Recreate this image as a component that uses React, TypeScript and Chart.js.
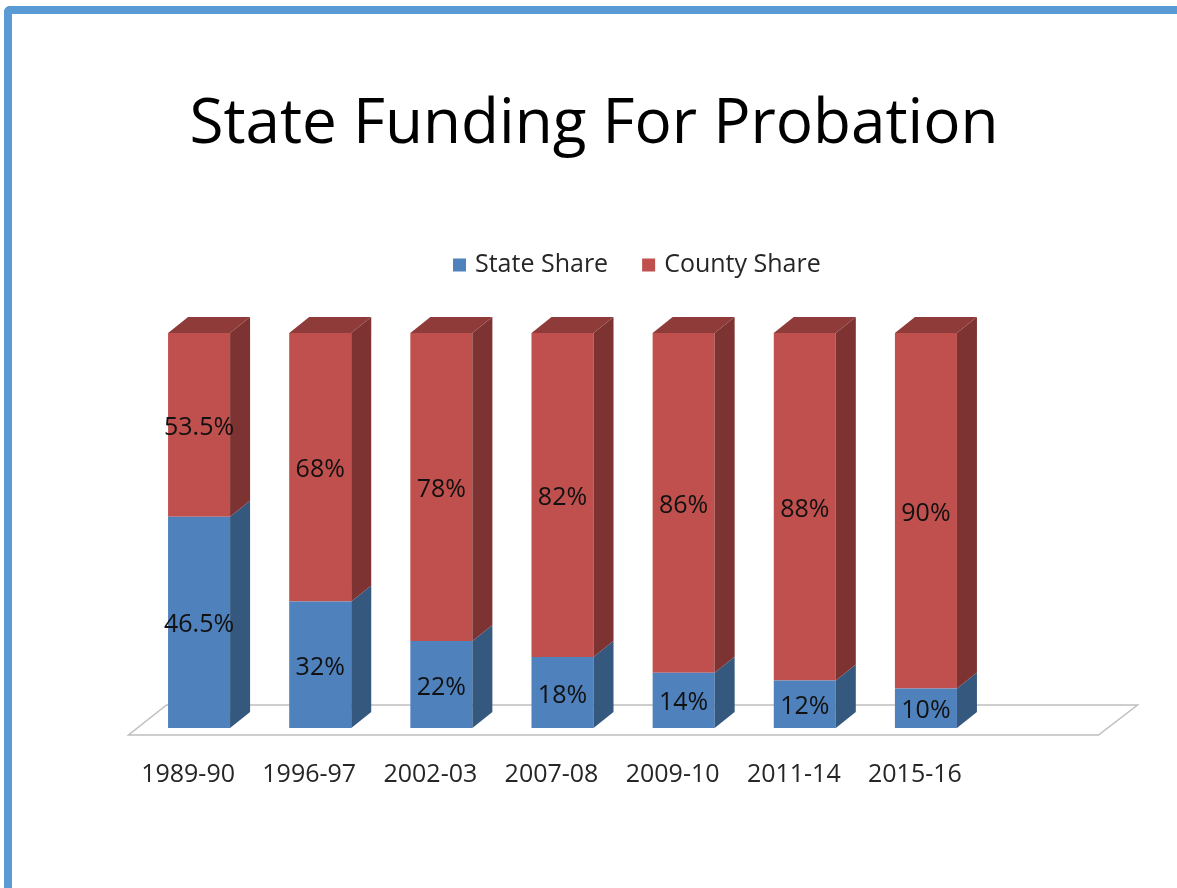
import React, { useEffect, useRef } from 'react';
import { Chart, registerables } from 'chart.js';

Chart.register(...registerables);

const titleText = 'State Funding For Probation';
const categories = ['1989-90', '1996-97', '2002-03', '2007-08', '2009-10', '2011-14', '2015-16'];
const seriesNames = ['State Share', 'County Share'];
// bar heights (percent of total)
const stateShare = [53.5, 32, 22, 18, 14, 12, 10];
const countyShare = [46.5, 68, 78, 82, 86, 88, 90];
// data label texts as printed on the picture
const stateLabels = ['46.5%', '32%', '22%', '18%', '14%', '12%', '10%'];
const countyLabels = ['53.5%', '68%', '78%', '82%', '86%', '88%', '90%'];

const frontColors = ['#4F81BD', '#C0504D'];
const sideColors = ['#35587F', '#7D3331'];
const topColors = ['#426E9F', '#8E3B39'];
const FONT = '"Open Sans", "Noto Sans", sans-serif';
const DX = 20;
const DY = -16;

const floorPlugin = {
  id: 'floor3d',
  beforeDatasetsDraw(chart: any) {
    const { ctx, chartArea: a } = chart;
    ctx.save();
    ctx.beginPath();
    ctx.moveTo(a.left - 10, a.bottom + 7);
    ctx.lineTo(a.right + 112, a.bottom + 7);
    ctx.lineTo(a.right + 151, a.bottom - 23);
    ctx.lineTo(a.left + 28, a.bottom - 23);
    ctx.closePath();
    ctx.fillStyle = '#ffffff';
    ctx.fill();
    ctx.strokeStyle = '#BFBFBF';
    ctx.lineWidth = 1.5;
    ctx.stroke();
    ctx.restore();
  },
};

const bars3dPlugin = {
  id: 'bars3d',
  afterDatasetsDraw(chart: any) {
    const { ctx } = chart;
    const n = chart.data.datasets.length;
    ctx.save();
    chart.data.datasets.forEach((_ds: any, di: number) => {
      const meta = chart.getDatasetMeta(di);
      meta.data.forEach((el: any) => {
        const { x, y, base, width } = el.getProps(['x', 'y', 'base', 'width'], true);
        const left = x - width / 2;
        const right = x + width / 2;
        const top = Math.min(y, base);
        const bottom = Math.max(y, base);
        ctx.fillStyle = sideColors[di];
        ctx.beginPath();
        ctx.moveTo(right, top);
        ctx.lineTo(right + DX, top + DY);
        ctx.lineTo(right + DX, bottom + DY);
        ctx.lineTo(right, bottom);
        ctx.closePath();
        ctx.fill();
        if (di === n - 1) {
          ctx.fillStyle = topColors[di];
          ctx.beginPath();
          ctx.moveTo(left, top);
          ctx.lineTo(left + DX, top + DY);
          ctx.lineTo(right + DX, top + DY);
          ctx.lineTo(right, top);
          ctx.closePath();
          ctx.fill();
        }
      });
    });
    // data labels
    const labelSets = [stateLabels, countyLabels];
    ctx.fillStyle = '#111111';
    ctx.font = `25px ${FONT}`;
    ctx.textAlign = 'center';
    ctx.textBaseline = 'middle';
    chart.data.datasets.forEach((_ds: any, di: number) => {
      const meta = chart.getDatasetMeta(di);
      meta.data.forEach((el: any, i: number) => {
        const { x, y, base } = el.getProps(['x', 'y', 'base'], true);
        ctx.fillText(labelSets[di][i], x, (y + base) / 2 + 3);
      });
    });
    ctx.restore();
  },
};

const headerPlugin = {
  id: 'header',
  afterDraw(chart: any) {
    const { ctx } = chart;
    ctx.save();
    // title
    ctx.font = `62px ${FONT}`;
    ctx.fillStyle = '#000000';
    ctx.textAlign = 'center';
    ctx.textBaseline = 'middle';
    ctx.fillText(titleText, 594, 125);
    // legend
    ctx.font = `25px ${FONT}`;
    ctx.textAlign = 'left';
    let x = 453;
    const cy = 265;
    seriesNames.forEach((name, i) => {
      ctx.fillStyle = frontColors[i];
      ctx.fillRect(x, cy - 6.5, 13, 13);
      ctx.fillStyle = '#262626';
      ctx.fillText(name, x + 22, cy);
      x += 22 + ctx.measureText(name).width + 34;
    });
    ctx.restore();
  },
};

export default function App() {
  const ref = useRef<HTMLCanvasElement>(null);
  useEffect(() => {
    if (!ref.current) return;
    const chart = new Chart(ref.current, {
      type: 'bar',
      data: {
        labels: categories,
        datasets: [
          { label: seriesNames[0], data: stateShare, backgroundColor: frontColors[0], borderWidth: 0 },
          { label: seriesNames[1], data: countyShare, backgroundColor: frontColors[1], borderWidth: 0 },
        ],
      },
      options: {
        responsive: false,
        animation: false,
        events: [],
        layout: { padding: { left: 138.5, right: 190.5, top: 333, bottom: 66 } },
        datasets: { bar: { barPercentage: 0.512, categoryPercentage: 1 } },
        plugins: {
          legend: { display: false },
          tooltip: { enabled: false },
          title: { display: false },
        },
        scales: {
          x: {
            stacked: true,
            grid: { display: false, drawTicks: false },
            border: { display: false },
            ticks: {
              color: '#262626',
              font: { family: FONT, size: 25 },
              padding: 32,
              labelOffset: -11,
              maxRotation: 0,
              autoSkip: false,
            },
          },
          y: { stacked: true, display: false, min: 0, max: 100 },
        },
      },
      plugins: [floorPlugin, bars3dPlugin, headerPlugin],
    });
    return () => chart.destroy();
  }, []);

  return (
    <div>
      <div
        style={{
          position: 'fixed',
          left: 4,
          top: 6,
          width: 1400,
          height: 1100,
          borderLeft: '8px solid #5B9BD5',
          borderTop: '8px solid #5B9BD5',
          borderTopLeftRadius: 6,
          boxSizing: 'border-box',
          background: '#ffffff',
        }}
      />
      <canvas
        ref={ref}
        width={1177}
        height={888}
        style={{ position: 'fixed', left: 0, top: 0, display: 'block' }}
      />
    </div>
  );
}
